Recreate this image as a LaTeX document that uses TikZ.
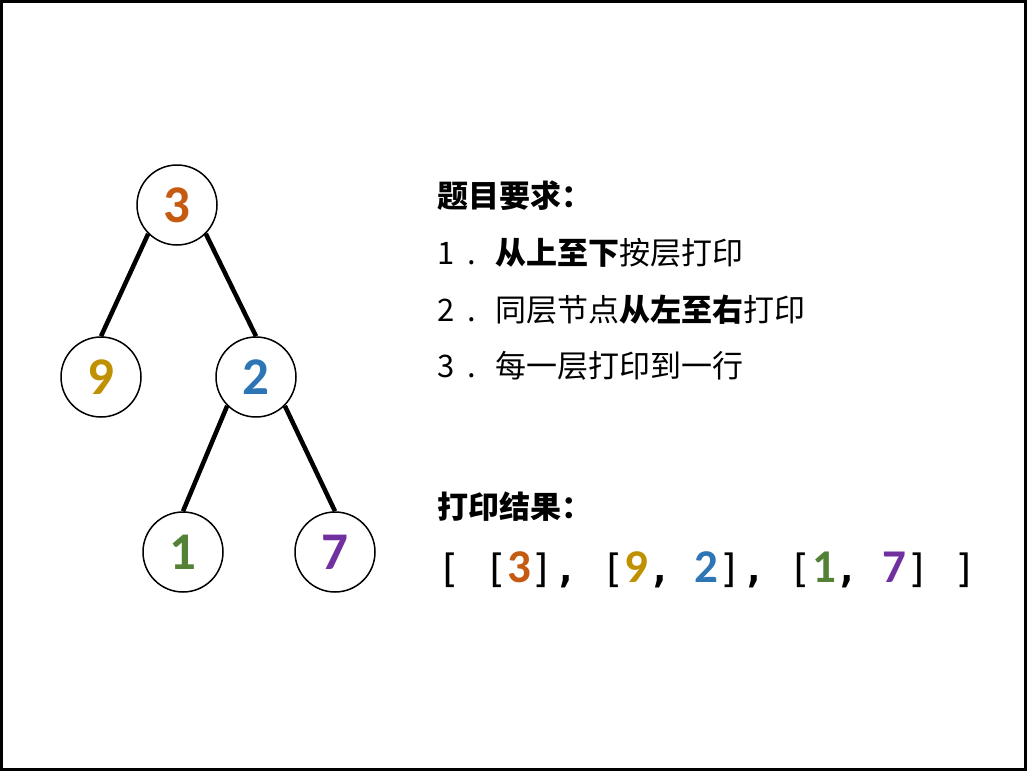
\documentclass[tikz,border=0pt]{standalone}
\usepackage{fontspec}
\newfontfamily\cjk{Noto Sans CJK SC}
\newfontfamily\numfont{Carlito}
\newfontfamily\monofont{DejaVu Sans Mono}
\definecolor{cOr}{HTML}{C55A11}
\definecolor{cGd}{HTML}{BF9000}
\definecolor{cBl}{HTML}{2E75B6}
\definecolor{cGr}{HTML}{538135}
\definecolor{cPu}{HTML}{7030A0}
\newcommand\cel[1]{\makebox[23.45pt][c]{#1}}
\newcommand\pn[1]{\cel{\monofont\fontsize{39}{39}\selectfont #1}}
\newcommand\cm{\cel{\monofont\bfseries\fontsize{39}{39}\selectfont ,}}
\newcommand\dg[2]{\cel{\textcolor{#1}{\numfont\bfseries #2}}}
\newcommand\lnum[1]{\makebox[58pt][l]{#1\hspace{13pt}.}}
\begin{document}
\begin{tikzpicture}[x=1pt,y=-1pt,
  tn/.style={circle,draw,line width=1.5pt,minimum size=80pt,inner sep=0pt,font=\numfont\bfseries\fontsize{53}{53}\selectfont},
  edgeln/.style={line width=4.5pt},
  txt/.style={anchor=west,inner sep=0pt,font=\cjk\fontsize{31}{31}\selectfont},
  res/.style={anchor=west,inner sep=0pt,font=\numfont\fontsize{47}{47}\selectfont}]
\useasboundingbox (0,0) rectangle (1027,771);
\draw[line width=3pt] (1.5,1.5) rectangle (1025.5,769.5);
% tree
\node[tn,text=cOr] (n3) at (177,205) {3};
\node[tn,text=cGd] (n9) at (101,377) {9};
\node[tn,text=cBl] (n2) at (256,377) {2};
\node[tn,text=cGr] (n1) at (183,552) {1};
\node[tn,text=cPu] (n7) at (335,552) {7};
\draw[edgeln] (n3.south west) -- (n9.north);
\draw[edgeln] (n3.south east) -- (n2.north);
\draw[edgeln] (n2.south west) -- (n1.north);
\draw[edgeln] (n2.south east) -- (n7.north);
% text
\node[txt] (t0) at (437,196) {\bfseries 题目要求：};
\node[txt] (t1) at (437,253) {\lnum{1}{\bfseries 从上至下}按层打印};
\node[txt] (t2) at (437,310) {\lnum{2}同层节点{\bfseries 从左至右}打印};
\node[txt] (t3) at (437,366) {\lnum{3}每一层打印到一行};
\node[txt] (t4) at (437,507) {\bfseries 打印结果：};
\node[res] (r) at (437,570) {\pn{[}\cel{ }\pn{[}\dg{cOr}{3}\pn{]}\cm\cel{ }\pn{[}\dg{cGd}{9}\cm\cel{ }\dg{cBl}{2}\pn{]}\cm\cel{ }\pn{[}\dg{cGr}{1}\cm\cel{ }\dg{cPu}{7}\pn{]}\cel{ }\pn{]}};
\end{tikzpicture}
\end{document}
